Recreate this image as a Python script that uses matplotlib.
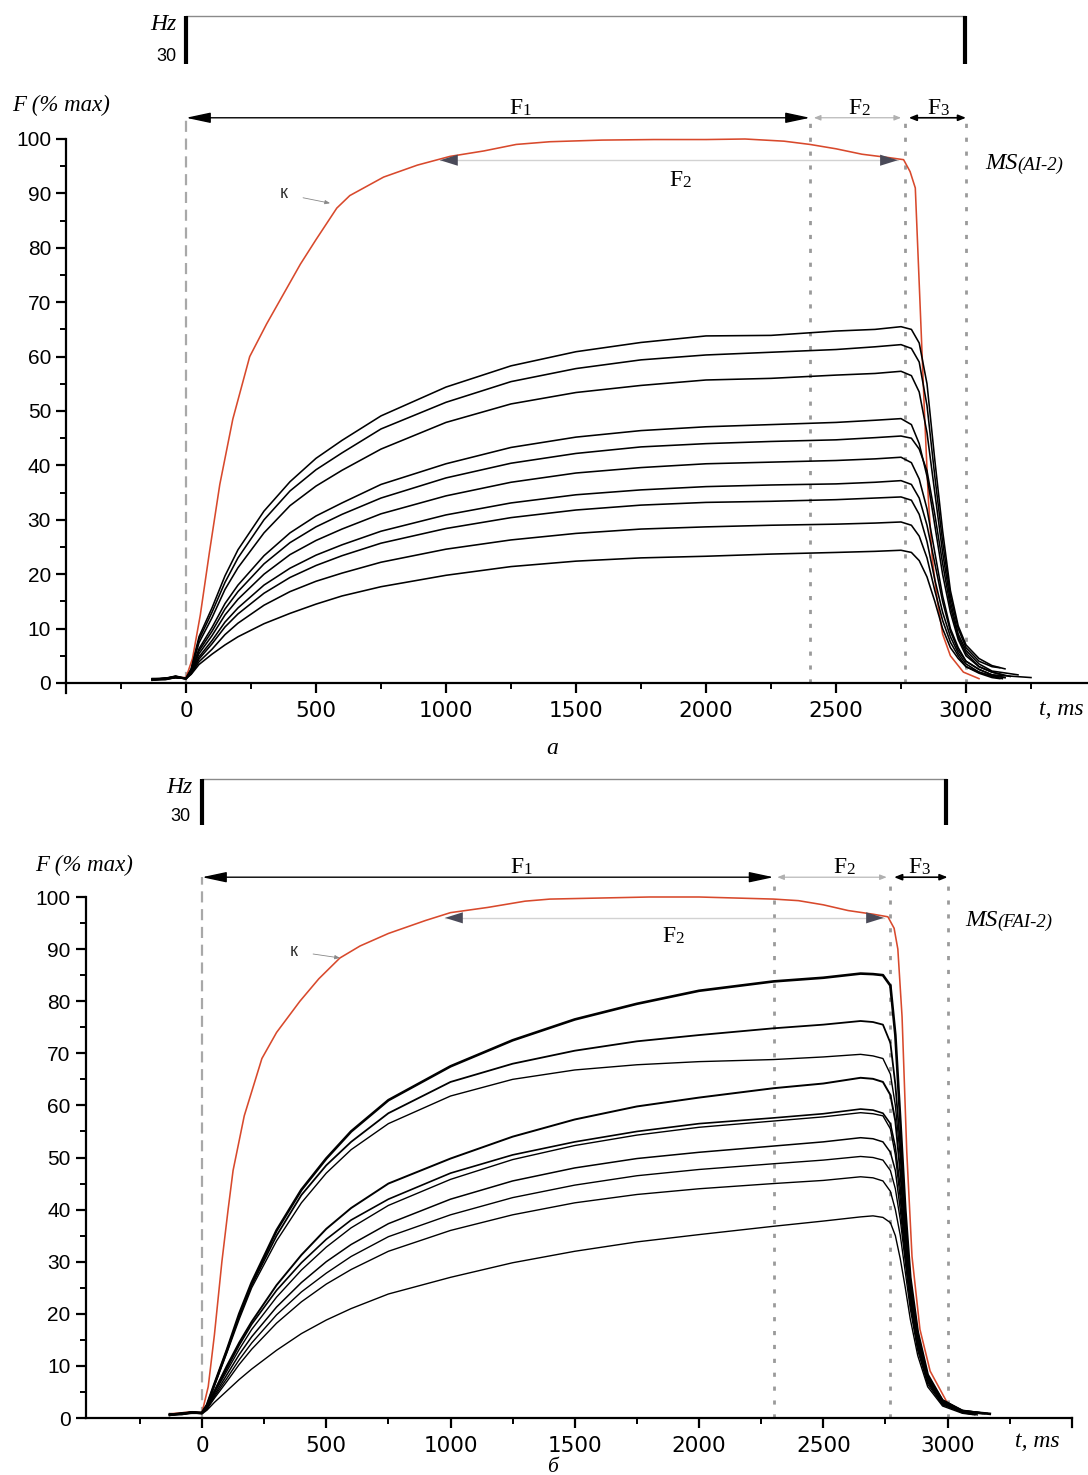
import matplotlib
matplotlib.use('Agg')
import matplotlib.pyplot as plt
from matplotlib.ticker import MultipleLocator, FixedLocator

SERIF = 'Liberation Serif'
SANS = 'Liberation Sans'

# ---------------- Panel a data ----------------
TA_RISE = [-130, -80, -40, 0, 20, 50, 100, 150, 200, 300, 400, 500, 600, 750,
           1000, 1250, 1500, 1750, 2000, 2250, 2500, 2650, 2750]
TA_DROP = [2790, 2820, 2850, 2880, 2910, 2940, 2970, 3000, 3050, 3100]
A_END_T = [3150, 3130, 3200, 3170, 3140, 3150, 3250, 3150, 3140, 3130]
A_C1 = [0.6, 0.9, 1.2, 0.9, 2.6, 8.5, 13.8, 19.7, 24.5, 31.6, 37.0, 41.3, 44.6, 49.1, 54.4, 58.3, 60.9, 62.6, 63.8, 63.9, 64.7, 65.0, 65.5,
        65.0, 62.5, 55.0, 41.0, 28.0, 17.0, 10.5, 7.0, 4.5, 3.2, 2.6]
A_C2 = [0.7, 0.6, 1.0, 0.8, 2.5, 8.0, 13.0, 18.5, 23.0, 30.0, 35.3, 39.2, 42.3, 46.7, 51.6, 55.4, 57.8, 59.4, 60.3, 60.8, 61.3, 61.8, 62.2,
        61.5, 59.0, 51.0, 38.0, 26.0, 16.0, 10.0, 6.5, 4.0, 3.0, 2.8]
A_C3 = [0.5, 0.8, 1.3, 0.8, 2.4, 7.4, 12.0, 17.2, 21.2, 27.6, 32.6, 36.2, 39.1, 43.0, 47.9, 51.3, 53.4, 54.7, 55.7, 56.0, 56.6, 56.9, 57.3,
        56.5, 53.5, 46.0, 35.0, 24.0, 15.0, 9.0, 6.0, 3.5, 2.2, 1.5]
A_C4 = [0.8, 0.7, 1.1, 0.8, 2.2, 6.3, 10.2, 14.6, 18.0, 23.4, 27.6, 30.7, 33.1, 36.5, 40.3, 43.3, 45.2, 46.4, 47.1, 47.5, 47.9, 48.3, 48.6,
        47.5, 44.0, 38.0, 29.0, 20.0, 13.0, 8.0, 5.0, 3.0, 2.0, 1.2]
A_C5 = [0.6, 0.9, 1.0, 0.8, 2.1, 5.9, 9.5, 13.6, 16.8, 21.9, 25.8, 28.7, 31.0, 34.0, 37.7, 40.4, 42.2, 43.4, 44.0, 44.4, 44.7, 45.1, 45.4,
        45.0, 43.0, 39.0, 31.0, 22.0, 14.0, 8.5, 5.5, 3.0, 2.0, 1.5]
A_C6 = [0.7, 0.8, 1.2, 0.8, 2.0, 5.4, 8.7, 12.5, 15.4, 20.0, 23.6, 26.2, 28.3, 31.1, 34.4, 36.9, 38.6, 39.6, 40.3, 40.6, 40.9, 41.2, 41.5,
        40.5, 37.5, 32.0, 24.0, 16.0, 10.0, 6.5, 4.0, 2.5, 1.5, 1.0]
A_C7 = [0.5, 0.7, 1.0, 0.8, 1.9, 4.8, 7.8, 11.2, 13.8, 18.0, 21.1, 23.5, 25.4, 27.9, 30.9, 33.1, 34.6, 35.5, 36.1, 36.4, 36.6, 36.9, 37.2,
        36.5, 34.0, 29.0, 22.0, 15.0, 9.5, 6.0, 4.0, 2.5, 1.5, 1.0]
A_C8 = [0.8, 0.9, 1.1, 0.8, 1.8, 4.4, 7.2, 10.3, 12.7, 16.5, 19.4, 21.6, 23.4, 25.7, 28.4, 30.4, 31.8, 32.7, 33.2, 33.4, 33.7, 34.0, 34.2,
        33.6, 31.0, 26.0, 19.0, 13.0, 8.5, 5.5, 3.5, 2.0, 1.3, 1.0]
A_C9 = [0.6, 0.7, 1.0, 0.8, 1.7, 3.9, 6.2, 8.9, 11.0, 14.3, 16.8, 18.7, 20.2, 22.2, 24.6, 26.3, 27.5, 28.3, 28.7, 29.0, 29.2, 29.4, 29.6,
        29.0, 27.0, 23.0, 17.0, 11.5, 7.5, 5.0, 3.0, 2.0, 1.2, 0.8]
A_C10 = [0.7, 0.8, 1.1, 0.8, 1.6, 3.4, 5.3, 7.0, 8.5, 10.9, 12.8, 14.5, 16.0, 17.7, 19.8, 21.4, 22.4, 23.0, 23.3, 23.7, 24.0, 24.2, 24.4,
         24.0, 22.5, 19.5, 15.0, 10.0, 6.5, 4.5, 3.0, 1.8, 1.0, 0.8]
A_CURVES = [A_C1, A_C2, A_C3, A_C4, A_C5, A_C6, A_C7, A_C8, A_C9, A_C10]
A_LW = [1.15] * 10

A_RED_T = [-130, -80, -40, 0, 25, 55, 90, 130, 180, 245, 310, 375, 440, 500, 580, 630, 760, 890,
           1015, 1145, 1270, 1400, 1600, 1800, 2000, 2150, 2300, 2400, 2500, 2600, 2700, 2760,
           2785, 2805, 2823, 2840, 2855, 2870, 2890, 2910, 2940, 2990, 3050]
A_RED = [0.6, 0.8, 1.0, 1.0, 4.5, 12.5, 24.0, 36.5, 48.5, 60.0, 66.0, 71.5, 77.0, 81.5, 87.3, 89.6, 93.0, 95.2,
         96.8, 97.8, 99.0, 99.5, 99.8, 99.9, 99.9, 100.0, 99.6, 99.0, 98.2, 97.2, 96.6, 96.2,
         94.0, 91.0, 70.0, 50.0, 34.0, 23.0, 15.0, 9.0, 5.0, 2.0, 0.8]

# ---------------- Panel b data ----------------
TB_RISE = [-130, -80, -40, 0, 20, 50, 100, 150, 200, 300, 400, 500, 600, 750,
           1000, 1250, 1500, 1750, 2000, 2300, 2500, 2650, 2700]
TB_DROP = [2740, 2770, 2790, 2810, 2830, 2850, 2880, 2920, 2980, 3060]
B_END_T = [3170, 3130, 3150, 3100, 3140, 3100, 3160, 3120, 3150, 3110]
B_C1 = [0.6, 0.9, 1.0, 1.0, 2.5, 6.5, 13.0, 20.0, 26.0, 36.0, 43.8, 49.8, 55.0, 61.0, 67.5, 72.5, 76.5, 79.5, 82.0, 83.8, 84.5, 85.3, 85.2,
        85.0, 83.0, 73.5, 57.0, 40.0, 27.0, 16.5, 8.3, 3.3, 1.3, 0.8]
B_C2 = [0.7, 0.8, 1.1, 1.0, 2.5, 6.5, 13.0, 19.5, 25.5, 35.0, 42.8, 48.5, 53.0, 58.5, 64.5, 68.0, 70.5, 72.3, 73.5, 74.8, 75.5, 76.2, 76.0,
        75.5, 72.0, 64.0, 52.0, 38.0, 26.0, 16.0, 8.0, 3.2, 1.4, 1.0]
B_C3 = [0.5, 0.9, 1.2, 1.0, 2.4, 6.2, 12.5, 19.0, 25.0, 34.0, 41.3, 47.0, 51.5, 56.5, 61.8, 65.0, 66.8, 67.8, 68.4, 68.8, 69.3, 69.8, 69.5,
        69.0, 66.0, 60.0, 50.0, 37.0, 26.0, 16.0, 8.0, 3.5, 1.5, 0.9]
B_C4 = [0.8, 0.7, 1.0, 0.9, 2.2, 5.2, 10.0, 14.5, 18.5, 25.5, 31.3, 36.3, 40.3, 45.0, 49.8, 54.0, 57.3, 59.8, 61.5, 63.3, 64.2, 65.3, 65.1,
        64.5, 62.0, 57.0, 47.0, 35.0, 25.0, 15.0, 7.5, 3.0, 1.2, 0.8]
B_C5 = [0.6, 0.8, 1.1, 0.9, 2.1, 5.0, 9.5, 14.0, 18.0, 24.5, 29.8, 34.3, 38.0, 42.0, 47.0, 50.5, 53.0, 55.0, 56.5, 57.6, 58.4, 59.3, 59.1,
        58.5, 56.5, 52.0, 44.0, 33.0, 24.0, 15.0, 7.5, 3.0, 1.3, 0.9]
B_C6 = [0.7, 0.9, 1.0, 0.9, 2.0, 4.8, 9.0, 13.2, 17.0, 23.2, 28.4, 32.8, 36.5, 40.8, 45.8, 49.6, 52.3, 54.3, 55.8, 57.0, 57.8, 58.6, 58.4,
        58.0, 55.5, 50.5, 42.0, 32.0, 23.0, 14.0, 7.0, 2.8, 1.1, 0.7]
B_C7 = [0.5, 0.7, 1.2, 0.9, 1.9, 4.4, 8.3, 12.2, 15.6, 21.3, 26.0, 30.0, 33.3, 37.3, 42.0, 45.5, 48.0, 49.8, 51.0, 52.2, 53.0, 53.8, 53.6,
        53.0, 51.0, 47.5, 40.0, 31.0, 22.5, 14.0, 7.0, 2.8, 1.3, 0.9]
B_C8 = [0.8, 0.8, 1.0, 0.9, 1.8, 4.1, 7.6, 11.2, 14.4, 19.8, 24.2, 27.8, 31.0, 34.8, 39.0, 42.3, 44.7, 46.5, 47.7, 48.8, 49.5, 50.2, 50.0,
        49.5, 47.5, 44.0, 38.0, 30.0, 22.0, 13.5, 7.0, 2.7, 1.0, 0.6]
B_C9 = [0.6, 0.9, 1.1, 0.9, 1.7, 3.8, 7.0, 10.3, 13.2, 18.2, 22.3, 25.7, 28.5, 32.0, 36.0, 39.0, 41.3, 42.9, 44.0, 45.0, 45.6, 46.3, 46.1,
        45.5, 43.5, 40.0, 35.0, 28.0, 21.0, 13.0, 6.5, 2.5, 1.1, 0.8]
B_C10 = [0.7, 0.7, 1.0, 0.8, 1.5, 3.0, 5.2, 7.4, 9.4, 13.0, 16.2, 18.8, 21.0, 23.8, 27.0, 29.8, 32.0, 33.8, 35.2, 36.8, 37.8, 38.6, 38.8,
         38.5, 37.5, 35.0, 30.5, 25.0, 19.0, 12.0, 6.0, 2.3, 0.9, 0.6]
B_CURVES = [B_C1, B_C2, B_C3, B_C4, B_C5, B_C6, B_C7, B_C8, B_C9, B_C10]
B_LW = [1.9, 1.3, 1.0, 1.4, 1.2, 1.0, 1.1, 1.0, 1.0, 1.0]

B_RED_T = [-130, -80, -40, 0, 25, 50, 80, 105, 125, 170, 241, 300, 394, 470, 555, 636, 750, 900,
           1000, 1150, 1300, 1400, 1600, 1800, 2000, 2150, 2300, 2400, 2500, 2600, 2700, 2760,
           2785, 2800, 2817, 2836, 2857, 2889, 2930, 2998, 3050, 3100]
B_RED = [0.8, 1.0, 1.2, 1.0, 6.0, 16.0, 30.0, 40.0, 47.5, 58.0, 69.0, 74.0, 80.0, 84.3, 88.3, 90.6, 93.0, 95.5,
         97.0, 98.0, 99.2, 99.6, 99.8, 100.0, 100.0, 99.8, 99.6, 99.3, 98.5, 97.4, 96.7, 96.2,
         94.0, 90.0, 77.0, 51.0, 31.0, 17.0, 9.0, 3.0, 1.5, 0.8]

X_TICKS = [0, 500, 1000, 1500, 2000, 2500, 3000]
Y_TICKS = [0, 10, 20, 30, 40, 50, 60, 70, 80, 90, 100]

RED = '#d8492c'
W, H = 1088, 1475
fig = plt.figure(figsize=(W / 100, H / 100), dpi=100)


def px_axes(l, r, top, bot):
    return fig.add_axes([l / W, 1 - bot / H, (r - l) / W, (bot - top) / H])


def setup(ax, xlim):
    ax.set_xlim(*xlim)
    ax.set_ylim(0, 100)
    for s in ['top', 'right']:
        ax.spines[s].set_visible(False)
    for s in ['left', 'bottom']:
        ax.spines[s].set_linewidth(1.6)
    ax.xaxis.set_major_locator(FixedLocator(X_TICKS))
    ax.xaxis.set_minor_locator(MultipleLocator(250))
    ax.yaxis.set_major_locator(FixedLocator(Y_TICKS))
    ax.yaxis.set_minor_locator(MultipleLocator(5))
    ax.tick_params(axis='both', which='major', direction='out', length=7, width=1.6)
    ax.tick_params(axis='both', which='minor', direction='out', length=4.5, width=1.4)
    ax.tick_params(axis='x', which='major', pad=6)
    ax.tick_params(axis='y', which='major', pad=4)
    for lab in ax.get_xticklabels():
        lab.set_fontfamily('DejaVu Sans')
        lab.set_fontsize(15.5)
    for lab in ax.get_yticklabels():
        lab.set_fontfamily(SANS)
        lab.set_fontsize(15)
    ax.patch.set_visible(False)


def ftext(ax, x, y, digit, size=17):
    t = ax.text(x, y, 'F', family=SERIF, fontsize=size, ha='center', va='baseline')
    ax.annotate(digit, xy=(1.0, 0.0), xycoords=t, family=SERIF, fontsize=size * 0.72,
                ha='left', va='bottom', annotation_clip=False)


def ms_text(ax, x, y, sub):
    t = ax.text(x, y, 'MS', family=SERIF, style='italic', fontsize=17.5, ha='left', va='baseline')
    ax.annotate(sub, xy=(1.0, 0.0), xycoords=t, family=SERIF, style='italic', fontsize=13.5,
                ha='left', va='bottom', annotation_clip=False)


def panel(ax, t_rise, t_drop, end_t, curves, lws, red_t, red, vlines, arrow_y, inner, labels, ms_sub, ms_pos):
    ax.plot(red_t, red, color=RED, lw=1.15, clip_on=False, zorder=2)
    for c, et, lw in zip(curves, end_t, lws):
        tt = t_rise + t_drop + [et]
        ax.plot(tt, c, color='black', lw=lw, clip_on=False, zorder=3)
    v0, v1, v2, v3 = vlines
    ax.plot([v0, v0], [0, arrow_y], color='#a8a8a8', lw=1.6, ls=(0, (5, 3)), clip_on=False, zorder=1)
    for v in (v1, v2, v3):
        ax.plot([v, v], [0, arrow_y], color='#9a9a9a', lw=2.0, ls=(0, (1.5, 3.5)), clip_on=False, zorder=1)
    ax.annotate('', xy=(v0, arrow_y), xytext=(v1, arrow_y), annotation_clip=False,
                arrowprops=dict(arrowstyle='<|-|>,head_length=0.75,head_width=0.16', mutation_scale=20,
                                color='black', lw=1.0, shrinkA=0, shrinkB=0))
    ax.annotate('', xy=(v1 + 15, arrow_y), xytext=(v2 - 15, arrow_y), annotation_clip=False,
                arrowprops=dict(arrowstyle='<|-|>,head_length=0.5,head_width=0.2', mutation_scale=8,
                                color='#b0b0b0', lw=0.8, shrinkA=0, shrinkB=0))
    ax.annotate('', xy=(v2 + 15, arrow_y), xytext=(v3, arrow_y), annotation_clip=False,
                arrowprops=dict(arrowstyle='<|-|>,head_length=0.5,head_width=0.2', mutation_scale=9,
                                color='black', lw=1.2, shrinkA=0, shrinkB=0))
    il, ir, iy = inner
    ax.plot([il, ir], [iy, iy], color='#d2d2d2', lw=1.0, clip_on=False, zorder=1)
    ax.annotate('', xy=(il, iy), xytext=(il + 80, iy), annotation_clip=False,
                arrowprops=dict(arrowstyle='-|>,head_length=0.8,head_width=0.25', mutation_scale=16,
                                color='#4a4a58', lw=0, shrinkA=0, shrinkB=0))
    ax.annotate('', xy=(ir, iy), xytext=(ir - 80, iy), annotation_clip=False,
                arrowprops=dict(arrowstyle='-|>,head_length=0.8,head_width=0.25', mutation_scale=16,
                                color='#4a4a58', lw=0, shrinkA=0, shrinkB=0))
    for (x, y, d) in labels:
        ftext(ax, x, y, d)
    ms_text(ax, ms_pos[0], ms_pos[1], ms_sub)


# ---------------- Panel a ----------------
axa = px_axes(66.4, 1088.2, 139, 683)
setup(axa, (-460, 3470))
panel(axa, TA_RISE, TA_DROP, A_END_T, A_CURVES, A_LW, A_RED_T, A_RED,
      (0, 2400, 2765, 3000), 103.9, (977, 2738, 96.1),
      [(1269, 104.6, '1'), (2573, 104.6, '2'), (2877, 104.6, '3'), (1885, 91.4, '2')],
      '(AI-2)', (3073, 94.5))
axa.annotate('к', xy=(554, 88.2), xytext=(377, 89.9), family=SANS, fontsize=13, color='#333333',
             ha='center', va='center', annotation_clip=False,
             arrowprops=dict(arrowstyle='-|>,head_length=0.5,head_width=0.2', mutation_scale=6,
                             color='#888888', lw=0.6, shrinkA=9, shrinkB=0))
axa.text(3365, -4.8, 't, ms', family=SERIF, style='italic', fontsize=17, ha='center', va='center')
axa.plot([0, 2996], [122.6, 122.6], color='#8a8a8a', lw=1.0, clip_on=False)
axa.plot([0, 0], [113.8, 122.6], color='black', lw=3.0, clip_on=False, solid_capstyle='butt')
axa.plot([2996, 2996], [113.8, 122.6], color='black', lw=3.0, clip_on=False, solid_capstyle='butt')
axa.text(-35, 121.0, 'Hz', family=SERIF, style='italic', fontsize=17, ha='right', va='center')
axa.text(-38, 115.2, '30', family=SANS, fontsize=13, ha='right', va='center')
axa.plot([-460, -460], [0, -1.8], color='black', lw=1.6, clip_on=False)

# ---------------- Panel b ----------------
axb = px_axes(85.95, 1071.8, 897, 1418)
setup(axb, (-467, 3500))
panel(axb, TB_RISE, TB_DROP, B_END_T, B_CURVES, B_LW, B_RED_T, B_RED,
      (0, 2300, 2770, 3000), 103.8, (978, 2744, 96.0),
      [(1268, 104.6, '1'), (2567, 104.6, '2'), (2869, 104.6, '3'), (1879, 91.4, '2')],
      '(FAI-2)', (3070, 94.5))
axb.annotate('к', xy=(555, 88.3), xytext=(370, 89.6), family=SANS, fontsize=13, color='#333333',
             ha='center', va='center', annotation_clip=False,
             arrowprops=dict(arrowstyle='-|>,head_length=0.5,head_width=0.2', mutation_scale=6,
                             color='#888888', lw=0.6, shrinkA=9, shrinkB=0))
axb.text(3360, -4.6, 't, ms', family=SERIF, style='italic', fontsize=17, ha='center', va='center')
axb.plot([0, 2995], [122.6, 122.6], color='#8a8a8a', lw=1.0, clip_on=False)
axb.plot([0, 0], [113.8, 122.6], color='black', lw=3.0, clip_on=False, solid_capstyle='butt')
axb.plot([2995, 2995], [113.8, 122.6], color='black', lw=3.0, clip_on=False, solid_capstyle='butt')
axb.text(-40, 121.1, 'Hz', family=SERIF, style='italic', fontsize=17, ha='right', va='center')
axb.text(-45, 115.4, '30', family=SANS, fontsize=13, ha='right', va='center')
axb.plot([3500, 3500], [0, -1.8], color='black', lw=1.6, clip_on=False)

fig.text(12 / W, 1 - 105 / H, 'F (% max)', family=SERIF, style='italic', fontsize=16.5, ha='left', va='center')
fig.text(35 / W, 1 - 865 / H, 'F (% max)', family=SERIF, style='italic', fontsize=16.5, ha='left', va='center')
fig.text(552 / W, 1 - 748 / H, 'а', family=SERIF, style='italic', fontsize=17, ha='center', va='center')
fig.text(552 / W, 1 - 1467 / H, 'б', family=SERIF, style='italic', fontsize=15.5, ha='center', va='center')

fig.savefig('out.png', dpi=100)
